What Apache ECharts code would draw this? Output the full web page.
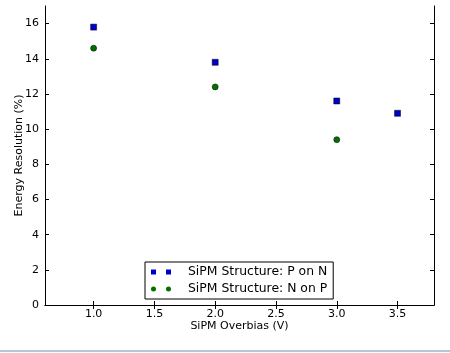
<!DOCTYPE html>
<html>
<head>
<meta charset="utf-8">
<script src="https://cdn.jsdelivr.net/npm/echarts@6/dist/echarts.min.js"></script>
<style>
html, body { margin: 0; padding: 0; background: #fff; }
#main { width: 450px; height: 353px; }
</style>
</head>
<body>
<div id="main"></div>
<script>
// 横轴刻度
const xTicks = [1.0, 1.5, 2.0, 2.5, 3.0, 3.5]
const yTicks = [0, 2, 4, 6, 8, 10, 12, 14, 16]
// P on N
const pOnNBias = [1.0, 2.0, 3.0, 3.5]
const pOnNRes = [15.8, 13.8, 11.6, 10.9]
// N on P
const nOnPBias = [1.0, 2.0, 3.0]
const nOnPRes = [14.6, 12.4, 9.4]

const font = 'DejaVu Sans'

const pair = (xs, ys) => xs.map((x, i) => [x, ys[i]])

const axisBase = {
  axisLine: { lineStyle: { color: '#000', width: 1 } },
  axisTick: { inside: true, length: 4, lineStyle: { color: '#000' } },
  splitLine: { show: false },
}

const chart = echarts.init(document.getElementById('main'))
chart.setOption({
  animation: false,
  textStyle: { fontFamily: font },
  grid: { left: 45, top: 6, right: 16, bottom: 48, outerBoundsMode: 'none', containLabel: false },
  legend: {
    orient: 'vertical',
    left: 145,
    top: 262,
    padding: [4, 6, 4, 6],
    itemGap: 5,
    itemWidth: 20,
    itemHeight: 5,
    borderColor: '#000',
    borderWidth: 1,
    backgroundColor: '#fff',
    itemStyle: { borderWidth: 0 },
    textStyle: { fontSize: 12.4, color: '#000', fontFamily: font, padding: [0, 0, 0, 12] },
    data: [
      { name: 'SiPM Structure: P on N', icon: 'path://M0,0h5v5h-5z M15,0h5v5h-5z' },
      { name: 'SiPM Structure: N on P', icon: 'path://M0,2.5a2.5,2.5 0 1,0 5,0a2.5,2.5 0 1,0 -5,0z M15,2.5a2.5,2.5 0 1,0 5,0a2.5,2.5 0 1,0 -5,0z' }
    ]
  },
  xAxis: [
    {
      ...axisBase,
      type: 'value',
      min: 0.6,
      max: 3.8,
      name: 'SiPM Overbias (V)',
      nameLocation: 'middle',
      nameGap: 16,
      nameMoveOverlap: false,
      nameTextStyle: { fontSize: 11, color: '#000', verticalAlign: 'top' },
      axisTick: { ...axisBase.axisTick, customValues: xTicks },
      axisLabel: { customValues: xTicks, fontSize: 11, color: '#000', margin: 4, formatter: v => v.toFixed(1) }
    },
    {
      ...axisBase,
      type: 'value',
      position: 'top',
      min: 0.6,
      max: 3.8,
      axisTick: { ...axisBase.axisTick, customValues: xTicks },
      axisLabel: { show: false }
    }
  ],
  yAxis: [
    {
      ...axisBase,
      type: 'value',
      min: 0,
      max: 17,
      name: 'Energy Resolution (%)',
      nameLocation: 'middle',
      nameGap: 20,
      nameMoveOverlap: false,
      nameTextStyle: { fontSize: 11, color: '#000' },
      axisTick: { ...axisBase.axisTick, customValues: yTicks },
      axisLabel: { customValues: yTicks, fontSize: 11, color: '#000', margin: 6 }
    },
    {
      ...axisBase,
      type: 'value',
      position: 'right',
      min: 0,
      max: 17,
      axisTick: { ...axisBase.axisTick, customValues: yTicks },
      axisLabel: { show: false }
    }
  ],
  graphic: [
    {
      type: 'line',
      shape: { x1: 0, y1: 351, x2: 450, y2: 351 },
      style: { stroke: '#9fb3c8', lineWidth: 1.5 }
    }
  ],
  series: [
    {
      name: 'SiPM Structure: P on N',
      type: 'scatter',
      symbol: 'rect',
      symbolSize: 6,
      itemStyle: { color: '#0000c8', borderColor: '#000', borderWidth: 0.5, opacity: 1 },
      data: pair(pOnNBias, pOnNRes)
    },
    {
      name: 'SiPM Structure: N on P',
      type: 'scatter',
      symbol: 'circle',
      symbolSize: 6,
      itemStyle: { color: '#007000', borderColor: '#000', borderWidth: 0.5, opacity: 1 },
      data: pair(nOnPBias, nOnPRes)
    }
  ]
})
</script>
</body>
</html>
